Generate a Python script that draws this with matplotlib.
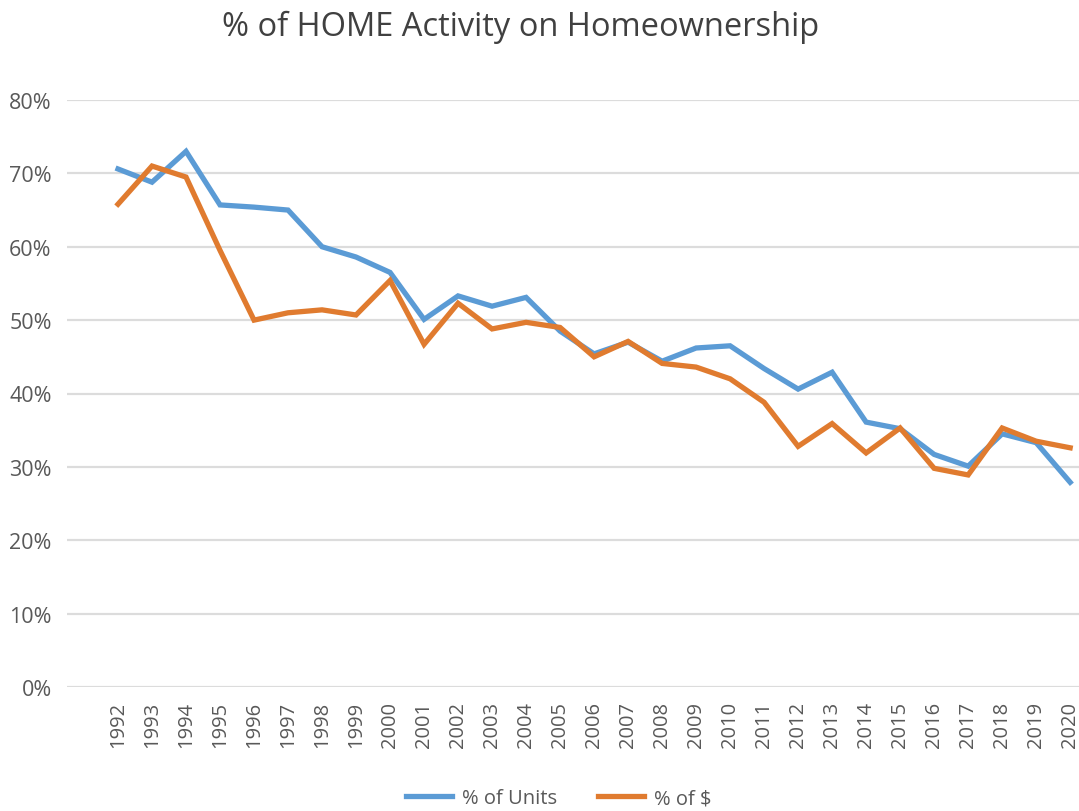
import matplotlib.pyplot as plt
from matplotlib.ticker import PercentFormatter

years = [str(y) for y in range(1992, 2021)]

units = [70.6, 68.8, 73.0, 65.7, 65.4, 65.0, 60.0, 58.6, 56.5, 50.1,
         53.3, 51.9, 53.1, 48.5, 45.4, 47.0, 44.4, 46.2, 46.5, 43.4,
         40.6, 42.9, 36.1, 35.2, 31.7, 30.1, 34.5, 33.3, 27.9]

dollars = [65.8, 71.0, 69.5, 59.5, 50.0, 51.0, 51.4, 50.7, 55.4, 46.7,
           52.3, 48.8, 49.7, 49.0, 45.0, 47.1, 44.1, 43.6, 42.0, 38.8,
           32.8, 35.9, 31.9, 35.3, 29.8, 28.9, 35.3, 33.5, 32.6]

plt.rcParams['font.family'] = ['Open Sans', 'DejaVu Sans']

fig = plt.figure(figsize=(10.79, 8.12), dpi=100)
ax = fig.add_axes([67 / 1079, 124 / 812, 1012 / 1079, 587 / 812])

x = list(range(len(years)))
ax.plot(x, units, color='#5b9bd5', lw=3.8, label='% of Units', solid_joinstyle='miter')
ax.plot(x, dollars, color='#e07b2f', lw=3.8, label='% of $', solid_joinstyle='miter')

ax.set_ylim(0, 80)
ax.set_xlim(-1.5, 28.26)
ax.set_yticks(range(0, 81, 10))
ax.yaxis.set_major_formatter(PercentFormatter(decimals=0))
ax.set_xticks(x)
ax.set_xticklabels(years, rotation=90)
ax.tick_params(length=0, colors='#595959', labelsize=14.5)
ax.tick_params(axis='y', labelsize=15.5, pad=11)
ax.tick_params(axis='x', pad=10)
ax.grid(axis='y', color='#dcdcdc', lw=1.6)
ax.set_axisbelow(True)
for s in ax.spines.values():
    s.set_visible(False)

fig.text(0.482, 0.966, '% of HOME Activity on Homeownership', ha='center', va='center',
         fontsize=23.5, color='#404040')

fig.legend(loc='center', bbox_to_anchor=(0.518, 0.016), ncol=2, frameon=False,
           fontsize=14.5, labelcolor='#595959', handlelength=2.3, columnspacing=2.0,
           handletextpad=0.5)

fig.savefig('out.png', dpi=100)
